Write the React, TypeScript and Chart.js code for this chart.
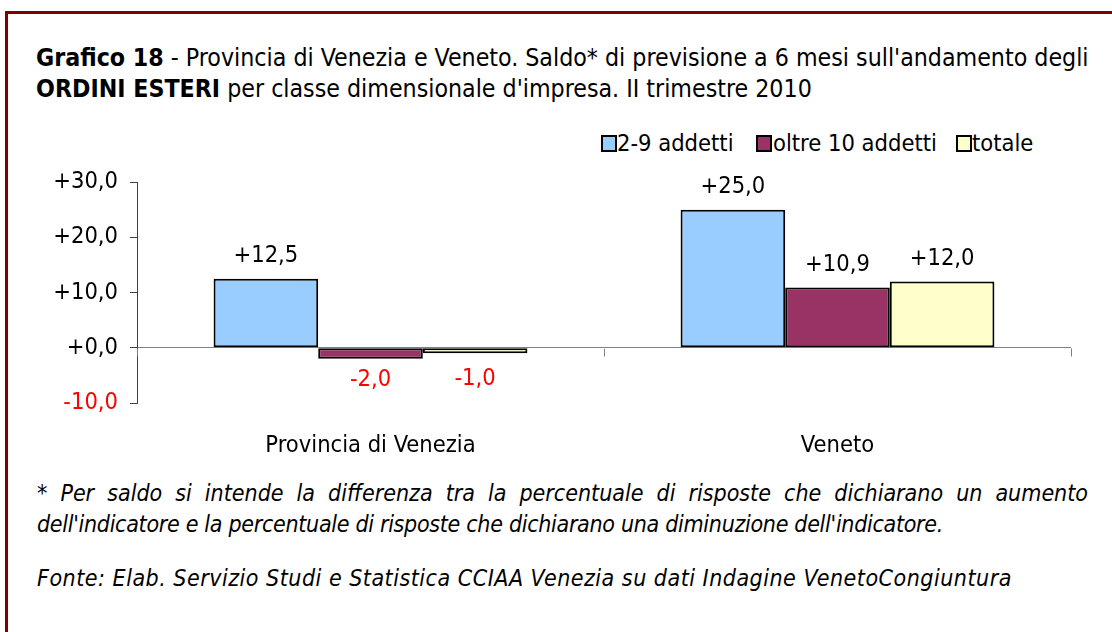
import React, { useEffect, useRef } from 'react';
import { Chart, registerables } from 'chart.js';
Chart.register(...registerables);

const categories = ['Provincia di Venezia', 'Veneto'];
const seriesNames = ['2-9 addetti', 'oltre 10 addetti', 'totale'];
const small = [12.5, 25.0];
const large = [-2.0, 10.9];
const total = [-1.0, 12.0];
const yMin = -10;
const yMax = 30;
const yStep = 10;
const colors = ['#99CCFF', '#993366', '#FFFFCC'];

const FONT = '"DejaVu Sans Condensed", "DejaVu Sans", sans-serif';
const fmt = (v: number) => (v >= 0 ? '+' : '') + v.toFixed(1).replace('.', ',');

const valueLabels = {
  id: 'valueLabels',
  afterDatasetsDraw(chart: any) {
    const ctx = chart.ctx;
    ctx.save();
    ctx.font = `23.5px ${FONT}`;
    ctx.textAlign = 'center';
    ctx.textBaseline = 'middle';
    chart.data.datasets.forEach((ds: any, di: number) => {
      const meta = chart.getDatasetMeta(di);
      meta.data.forEach((el: any, i: number) => {
        const v = ds.data[i];
        if (v >= 0) {
          ctx.fillStyle = '#000000';
          ctx.fillText(fmt(v), el.x, el.y - 23);
        } else {
          ctx.fillStyle = '#FF0000';
          ctx.fillText(fmt(v), el.x, Math.max(el.y + 21, el.base + 31));
        }
      });
    });
    ctx.restore();
  },
};

const xTickMarks = {
  id: 'xTickMarks',
  afterDraw(chart: any) {
    const ctx = chart.ctx;
    const xs = chart.scales.x;
    const ys = chart.scales.y;
    const y0 = Math.round(ys.getPixelForValue(0)) + 0.5;
    const n = chart.data.labels.length;
    const w = (xs.right - xs.left) / n;
    ctx.save();
    ctx.strokeStyle = '#808080';
    ctx.lineWidth = 1;
    ctx.beginPath();
    for (let i = 0; i <= n; i++) {
      const px = Math.round(xs.left + i * w) + 0.5;
      ctx.moveTo(px, y0);
      ctx.lineTo(px, y0 + 8);
    }
    ctx.stroke();
    ctx.restore();
  },
};

function BarChart() {
  const ref = useRef<HTMLCanvasElement>(null);
  useEffect(() => {
    if (!ref.current) return;
    const seriesData = [small, large, total];
    const chart = new Chart(ref.current, {
      type: 'bar',
      data: {
        labels: categories,
        datasets: seriesNames.map((name, i) => ({
          label: name,
          data: seriesData[i],
          backgroundColor: colors[i],
          borderColor: '#000000',
          borderWidth: 2,
          borderSkipped: false,
          categoryPercentage: 0.672,
          barPercentage: 1.0,
        })),
      },
      options: {
        animation: false,
        responsive: false,
        maintainAspectRatio: false,
        layout: { padding: { top: 0, right: 41, left: 0, bottom: 0 } },
        plugins: { legend: { display: false }, tooltip: { enabled: false } },
        scales: {
          x: {
            grid: { display: false, drawTicks: false },
            border: { display: false },
            ticks: { color: '#000000', font: { family: FONT, size: 23.5 }, padding: 29 },
            afterFit: (s: any) => { s.height = 53; },
          },
          y: {
            min: yMin,
            max: yMax,
            ticks: {
              stepSize: yStep,
              padding: 12,
              font: { family: FONT, size: 23.5 },
              color: (c: any) => (c.tick && c.tick.value < 0 ? '#FF0000' : '#000000'),
              callback: (v: any) => fmt(Number(v)),
            },
            grid: {
              color: (c: any) => (c.tick && c.tick.value === 0 ? '#808080' : 'rgba(0,0,0,0)'),
              tickColor: '#404040',
              tickLength: 7,
              drawTicks: true,
            },
            border: { display: true, color: '#404040', width: 1 },
            afterFit: (s: any) => { s.width = 137; },
          },
        },
      },
      plugins: [valueLabels, xTickMarks],
    });
    return () => chart.destroy();
  }, []);
  return <canvas ref={ref} width={1112} height={300} style={{ position: 'absolute', left: 0, top: 156, width: 1112, height: 300 }} />;
}

const legendItems = [
  { box: 601, text: 617 },
  { box: 756, text: 773 },
  { box: 956, text: 972 },
];

export default function App() {
  return (
    <div style={{ position: 'absolute', left: 0, top: 0, width: 1112, height: 632, overflow: 'hidden', background: '#fff', fontFamily: FONT, color: '#000' }}>
      <div style={{ position: 'absolute', left: 5, top: 11, width: 1200, height: 800, border: '3px solid #800000' }} />
      <div style={{ position: 'absolute', left: 36, top: 42, fontSize: 24.7, lineHeight: '31px', whiteSpace: 'nowrap' }}>
        <div><b>Grafico 18</b> - Provincia di Venezia e Veneto. Saldo* di previsione a 6 mesi sull'andamento degli</div>
        <div><b>ORDINI ESTERI</b> per classe dimensionale d'impresa. II trimestre 2010</div>
      </div>
      {seriesNames.map((n, i) => (
        <React.Fragment key={n}>
          <div style={{ position: 'absolute', left: legendItems[i].box, top: 135, width: 12, height: 13, border: '2px solid #000', background: colors[i] }} />
          <div style={{ position: 'absolute', left: legendItems[i].text, top: 129, fontSize: 23.5, lineHeight: '28px', whiteSpace: 'nowrap' }}>{n}</div>
        </React.Fragment>
      ))}
      <BarChart />
      <div style={{ position: 'absolute', left: 37, top: 478, width: 1051, fontStyle: 'italic', fontSize: 23, lineHeight: '31px' }}>
        <div style={{ textAlign: 'justify', textAlignLast: 'justify', whiteSpace: 'nowrap' as any }}>* Per saldo si intende la differenza tra la percentuale di risposte che dichiarano un aumento</div>
        <div style={{ whiteSpace: 'nowrap', letterSpacing: '-0.3px' }}>dell'indicatore e la percentuale di risposte che dichiarano una diminuzione dell'indicatore.</div>
        <div style={{ whiteSpace: 'nowrap', marginTop: 23, letterSpacing: '0.5px' }}>Fonte: Elab. Servizio Studi e Statistica CCIAA Venezia su dati Indagine VenetoCongiuntura</div>
      </div>
    </div>
  );
}
